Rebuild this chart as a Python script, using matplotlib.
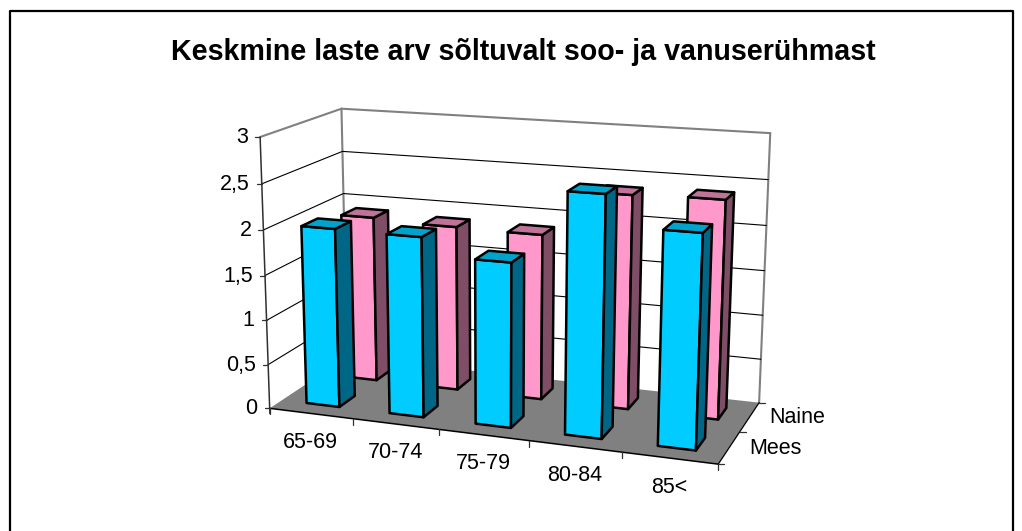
# -*- coding: utf-8 -*-
import numpy as np
import matplotlib
matplotlib.use("Agg")
import matplotlib.pyplot as plt

plt.rcParams['font.family'] = ['Liberation Sans', 'DejaVu Sans']

title = "Keskmine laste arv sõltuvalt soo- ja vanuserühmast"
age_groups = ["65-69", "70-74", "75-79", "80-84", "85<"]
genders = ["Mees", "Naine"]
mees = [2.00, 1.99, 1.80, 2.59, 2.27]
naine = [1.91, 1.88, 1.87, 2.38, 2.40]
value_ticks = [0, 0.5, 1, 1.5, 2, 2.5, 3]
value_labels = ["0", "0,5", "1", "1,5", "2", "2,5", "3"]

# bar colours: front, side, top
colors = {
    "Mees": ("#00ccff", "#006685", "#00a3cc"),
    "Naine": ("#ff99cc", "#804d66", "#bf7399"),
}

# (category, series, value) -> pixel, camera fitted on the corners of the box
corners_3d = [(0, 0, 0), (0, 0, 3), (0, 2, 3), (0, 2, 0), (5, 2, 3), (5, 2, 0), (5, 0, 0)]
corners_px = [(270.7, 407.3), (259, 137.3), (342.7, 108.3), (346, 358),
              (770, 133.3), (759.3, 401.7), (718.3, 465)]


def fit_camera():
    A = []
    b = []
    for (X, Y, Z), (u, v) in zip(corners_3d, corners_px):
        A.append([X, Y, Z, 1, 0, 0, 0, 0, -u*X, -u*Y, -u*Z])
        b.append(u)
        A.append([0, 0, 0, 0, X, Y, Z, 1, -v*X, -v*Y, -v*Z])
        b.append(v)
    p = np.linalg.lstsq(np.array(A, float), np.array(b, float), rcond=None)[0]
    return np.append(p, 1).reshape(3, 4)


P = fit_camera()


def proj(x, y, z):
    u, v, w = P @ np.array([x, y, z, 1.0])
    return u/w, v/w


def line(a, b, color='k', lw=1.0, zorder=2):
    ax.plot([a[0], b[0]], [a[1], b[1]], color=color, lw=lw, zorder=zorder,
            solid_capstyle='round')


def draw_bar(i, s, val, cols):
    x0, x1 = i + 0.3, i + 0.7
    y0, y1 = s + 0.3, s + 0.7
    front = [proj(x0, y0, 0), proj(x1, y0, 0), proj(x1, y0, val), proj(x0, y0, val)]
    side = [proj(x1, y0, 0), proj(x1, y1, 0), proj(x1, y1, val), proj(x1, y0, val)]
    top = [proj(x0, y0, val), proj(x1, y0, val), proj(x1, y1, val), proj(x0, y1, val)]
    for face, c in zip((front, side, top), cols):
        ax.fill(*zip(*face), facecolor=c, edgecolor='k', lw=1.8, zorder=5 + s * -1,
                joinstyle='round')


fig = plt.figure(figsize=(10.22, 5.31), dpi=100)
ax = fig.add_axes([0, 0, 1, 1])
ax.set_xlim(0, 1022)
ax.set_ylim(531, 0)
ax.axis('off')

# frame, open at the bottom
ax.plot([9.5, 9.5, 1012.5, 1012.5], [531, 11, 11, 531], color='k', lw=1.6)

ax.text(523, 52, title, ha='center', va='center', fontsize=20.6, fontweight='bold')

# floor
floor = [proj(0, 0, 0), proj(5, 0, 0), proj(5, 2, 0), proj(0, 2, 0)]
ax.fill(*zip(*floor), facecolor='#808080', edgecolor='none', zorder=1)

# walls
grey = '#808080'
line(proj(0, 0, 3), proj(0, 2, 3), grey, 1.5)
line(proj(0, 2, 3), proj(5, 2, 3), grey, 1.5)
line(proj(0, 2, 3), proj(0, 2, 0), grey, 1.5)
line(proj(5, 2, 3), proj(5, 2, 0), grey, 1.5)
for v in value_ticks[1:-1]:
    line(proj(0, 0, v), proj(0, 2, v), 'k', 0.8)
    line(proj(0, 2, v), proj(5, 2, v), 'k', 0.8)

# axes
line(proj(0, 0, 3), proj(0, 0, -0.06), '#303030', 1.1, 3)
line(proj(0, 0, 0), proj(5, 0, 0), 'k', 1.1, 3)
line(proj(5, 0, 0), proj(5, 2, 0), 'k', 0.9, 3)

for v, lab in zip(value_ticks, value_labels):
    px, py = proj(0, 0, v)
    line((px - 5, py), (px, py), '#303030', 0.9, 3)
    ax.text(px - 12, py + 0.5, lab, ha='right', va='center', fontsize=15.5)

for i in range(len(age_groups) + 1):
    px, py = proj(i, 0, 0)
    line((px, py), (px, py + 6), '#303030', 0.9, 3)

for i, lab in enumerate(age_groups):
    px, py = proj(i + 0.5, 0, 0)
    ax.text(px, py + 29, lab, ha='center', va='center', fontsize=15.5)

for s in range(len(genders) + 1):
    px, py = proj(5, s, 0)
    line((px, py), (px + 6, py), '#303030', 0.9, 3)

for s, lab in enumerate(genders):
    px, py = proj(5, s + 0.5, 0)
    ax.text(px + 20, py + 1, lab, ha='left', va='center', fontsize=15.5)

for i, val in enumerate(naine):
    draw_bar(i, 1, val, colors["Naine"])
for i, val in enumerate(mees):
    draw_bar(i, 0, val, colors["Mees"])

fig.savefig('out.png', dpi=100)
